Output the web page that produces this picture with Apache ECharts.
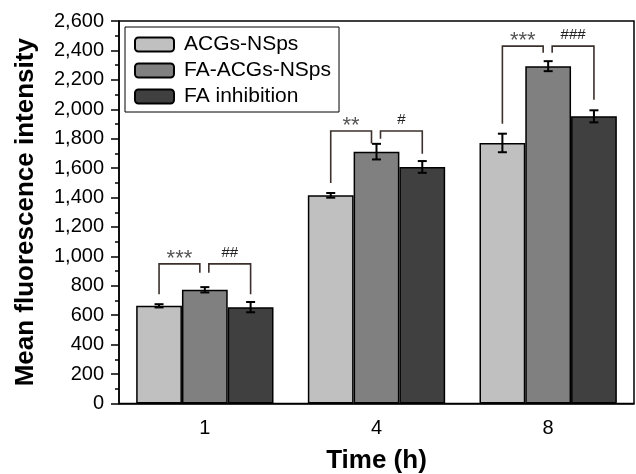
<!DOCTYPE html>
<html>
<head>
<meta charset="utf-8" />
<script type="text/javascript" src="https://cdn.jsdelivr.net/npm/echarts@6/dist/echarts.min.js"></script>
<title>Mean fluorescence intensity</title>
</head>
<body style="margin:0">
<div id="main" style="width:636px;height:474px"></div>
<script type="text/javascript">
var times = ['1', '4', '8'];
var seriesNames = ['ACGs-NSps', 'FA-ACGs-NSps', 'FA inhibition'];
var acgs = [664, 1415, 1771];
var faAcgs = [773, 1712, 2293];
var faInhib = [655, 1608, 1952];
var acgsErr = [11, 16, 63];
var faAcgsErr = [18, 53, 34];
var faInhibErr = [35, 40, 41];
// [time index, from bar, to bar, left end, top, right end, mark]
var brackets = [
  [0, 0, 1, 743, 949, 888, '***'],
  [0, 1, 2, 888, 949, 743, '##'],
  [1, 0, 1, 1499, 1852, 1767, '**'],
  [1, 1, 2, 1800, 1852, 1698, '#'],
  [2, 0, 1, 1902, 2429, 2384, '***'],
  [2, 1, 2, 2384, 2429, 2065, '###']
];
var colors = ['#c0c0c0', '#808080', '#404040'];
var values = [acgs, faAcgs, faInhib];
var errs = [acgsErr, faAcgsErr, faInhibErr];

var myChart = echarts.init(document.getElementById('main'));

function barX(api, cat, s) {
  var c = api.coord([cat, 0])[0];
  var w = api.size([1, 0])[0] * 0.8 / 3;
  return c + (s - 1) * w;
}

var series = [];
for (var i = 0; i < 3; i++) {
  series.push({
    name: seriesNames[i],
    type: 'bar',
    data: values[i],
    barGap: '0%',
    barCategoryGap: '20%',
    itemStyle: { color: colors[i], borderColor: '#000', borderWidth: 1.5 }
  });
}
for (var j = 0; j < 3; j++) {
  (function (s) {
    series.push({
      type: 'custom',
      z: 5,
      data: values[s].map(function (v, k) { return [k, v - errs[s][k], v + errs[s][k]]; }),
      renderItem: function (params, api) {
        var cat = api.value(0);
        var x = barX(api, cat, s);
        var lo = api.coord([cat, api.value(1)])[1];
        var hi = api.coord([cat, api.value(2)])[1];
        var st = { stroke: '#000', lineWidth: 2 };
        return {
          type: 'group',
          children: [
            { type: 'line', shape: { x1: x, y1: lo, x2: x, y2: hi }, style: st },
            { type: 'line', shape: { x1: x - 4.5, y1: lo, x2: x + 4.5, y2: lo }, style: st },
            { type: 'line', shape: { x1: x - 4.5, y1: hi, x2: x + 4.5, y2: hi }, style: st }
          ]
        };
      }
    });
  })(j);
}
series.push({
  type: 'custom',
  z: 6,
  data: brackets,
  renderItem: function (params, api) {
    var b = brackets[params.dataIndex];
    var x1 = barX(api, b[0], b[1]) + (b[1] === 1 ? 4 : 0);
    var x2 = barX(api, b[0], b[2]) - (b[2] === 1 ? 5 : 0);
    var yl = api.coord([b[0], b[3]])[1];
    var yt = api.coord([b[0], b[4]])[1];
    var yr = api.coord([b[0], b[5]])[1];
    var star = b[6].charAt(0) === '*';
    return {
      type: 'group',
      children: [
        { type: 'polyline', shape: { points: [[x1, yl], [x1, yt], [x2, yt], [x2, yr]] },
          style: { stroke: '#3b302c', lineWidth: 1.6, fill: null } },
        { type: 'text', x: (x1 + x2) / 2, y: yt - (star ? 5 : 11),
          style: { text: b[6], align: 'center', verticalAlign: 'middle',
            font: (star ? '22px' : '15px') + ' "Liberation Sans", Arial', fill: star ? '#555' : '#222' } }
      ]
    };
  }
});

var option = {
  animation: false,
  textStyle: { fontFamily: '"Liberation Sans", Arial' },
  grid: { left: 119, right: 2, top: 21, bottom: 70.5, show: true, borderColor: '#000', borderWidth: 1.5,
    containLabel: false, outerBoundsMode: 'none' },
  legend: {
    data: seriesNames,
    orient: 'vertical',
    left: 125, top: 27,
    padding: [7, 8, 5, 9],
    itemWidth: 39, itemHeight: 14, itemGap: 5,
    borderColor: '#000', borderWidth: 1,
    textStyle: { fontSize: 21, color: '#000', padding: [0, 0, 0, 5] }
  },
  xAxis: [{
    type: 'category',
    data: times,
    name: 'Time (h)',
    nameLocation: 'middle',
    nameGap: 44,
    nameTextStyle: { fontSize: 26, fontWeight: 'bold', color: '#000' },
    axisLine: { lineStyle: { color: '#000', width: 1.5 } },
    axisTick: { alignWithLabel: true, length: 8, lineStyle: { color: '#000', width: 1.5 } },
    axisLabel: { fontSize: 20, color: '#000', margin: 15 }
  }, {
    type: 'category',
    data: times,
    position: 'bottom',
    axisLine: { show: false },
    axisTick: { length: 4, lineStyle: { color: '#000', width: 1.5 } },
    axisLabel: { show: false }
  }],
  yAxis: {
    type: 'value',
    min: 0, max: 2600, interval: 200,
    name: 'Mean fluorescence intensity',
    nameLocation: 'middle',
    nameGap: 80,
    nameTextStyle: { fontSize: 26, fontWeight: 'bold', color: '#000' },
    axisLine: { show: true, lineStyle: { color: '#000', width: 1.5 } },
    axisTick: { show: true, length: 8, lineStyle: { color: '#000', width: 1.5 } },
    minorTick: { show: true, splitNumber: 2, length: 4, lineStyle: { color: '#000', width: 1.5 } },
    splitLine: { show: false },
    axisLabel: { fontSize: 20, color: '#000', margin: 15,
      formatter: function (v) { return v.toLocaleString('en-US'); } }
  },
  series: series
};
myChart.setOption(option);
</script>
</body>
</html>
